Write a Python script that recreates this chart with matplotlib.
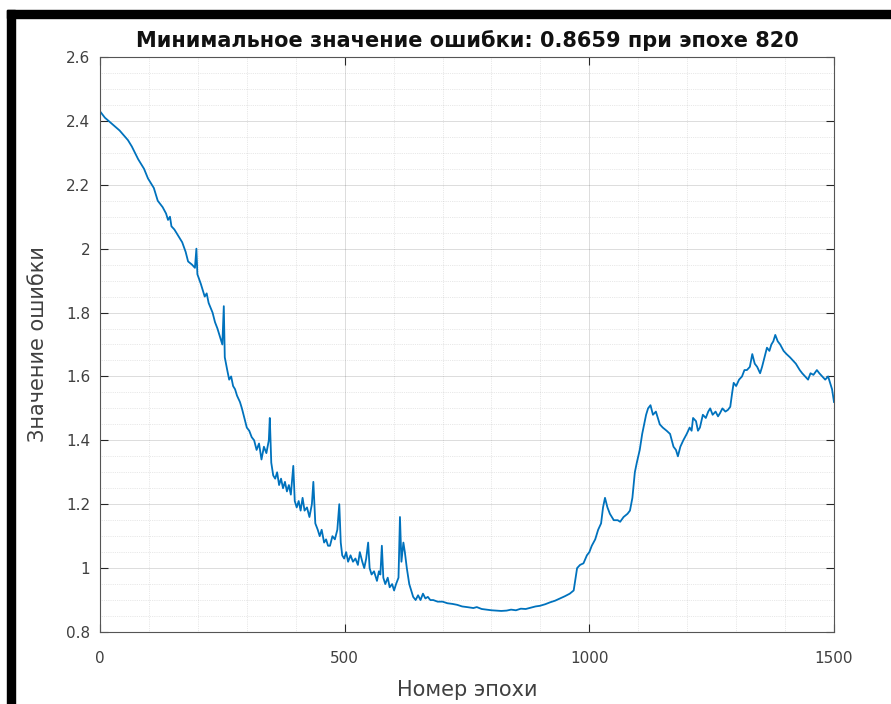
from __future__ import annotations

import matplotlib
matplotlib.use("Agg")
import matplotlib.pyplot as plt
from matplotlib.patches import Rectangle
from matplotlib.ticker import MultipleLocator

EPOCHS = [
    0, 10, 25, 40, 57, 65, 78, 90, 98, 110, 118, 128, 135, 139, 143, 146, 152,
    160, 168, 175, 180, 188, 194, 197, 199, 206, 214, 218, 222, 230, 235, 240,
    246, 250, 253, 255, 260, 264, 268, 272, 276, 280, 286, 290, 295, 300, 305,
    310, 315, 320, 325, 330, 335, 340, 345, 347, 350, 354, 358, 362, 366, 370,
    374, 378, 382, 386, 390, 395, 398, 402, 406, 410, 414, 418, 423, 428, 433,
    436, 440, 445, 449, 453, 458, 462, 466, 470, 475, 480, 485, 489, 492, 495,
    499, 503, 507, 512, 517, 522, 527, 531, 536, 540, 544, 548, 551, 555, 560,
    566, 570, 573, 576, 579, 583, 588, 592, 597, 601, 605, 610, 613, 616, 620,
    623, 627, 632, 636, 640, 645, 650, 655, 660, 665, 670, 675, 681, 690, 700,
    710, 720, 730, 740, 750, 763, 770, 780, 790, 800, 810, 820, 831, 840, 850,
    860, 870, 880, 890, 899, 910, 920, 930, 940, 950, 960, 968, 975, 981, 988,
    995, 1000, 1005, 1012, 1018, 1024, 1028, 1032, 1037, 1042, 1050, 1058,
    1063, 1070, 1078, 1083, 1088, 1093, 1097, 1103, 1108, 1112, 1116, 1120,
    1125, 1130, 1136, 1144, 1150, 1158, 1165, 1172, 1177, 1181, 1186, 1192,
    1199, 1205, 1209, 1212, 1218, 1222, 1226, 1232, 1238, 1243, 1247, 1252,
    1258, 1263, 1267, 1272, 1278, 1283, 1288, 1292, 1295, 1300, 1306, 1312,
    1317, 1322, 1328, 1333, 1338, 1343, 1349, 1353, 1358, 1363, 1368, 1372,
    1376, 1380, 1385, 1390, 1397, 1403, 1410, 1416, 1422, 1430, 1435, 1441,
    1447, 1452, 1458, 1465, 1470, 1476, 1482, 1488, 1492, 1496, 1500,
]
LOSS = [
    2.43, 2.41, 2.39, 2.37, 2.34, 2.32, 2.28, 2.25, 2.22, 2.19, 2.15, 2.13,
    2.11, 2.09, 2.10, 2.07, 2.06, 2.04, 2.02, 1.99, 1.96, 1.95, 1.94, 2.00,
    1.92, 1.89, 1.85, 1.86, 1.83, 1.80, 1.77, 1.75, 1.72, 1.70, 1.82, 1.66,
    1.62, 1.59, 1.60, 1.57, 1.56, 1.54, 1.52, 1.50, 1.47, 1.44, 1.43, 1.41,
    1.40, 1.37, 1.39, 1.34, 1.38, 1.36, 1.40, 1.47, 1.33, 1.29, 1.28, 1.30,
    1.26, 1.28, 1.25, 1.27, 1.24, 1.26, 1.23, 1.32, 1.21, 1.19, 1.21, 1.18,
    1.22, 1.18, 1.19, 1.16, 1.20, 1.27, 1.14, 1.12, 1.10, 1.12, 1.08, 1.09,
    1.07, 1.07, 1.10, 1.09, 1.12, 1.20, 1.08, 1.04, 1.03, 1.05, 1.02, 1.04,
    1.02, 1.03, 1.01, 1.05, 1.02, 1.00, 1.03, 1.08, 1.00, 0.98, 0.99, 0.96,
    0.99, 0.98, 1.07, 0.97, 0.95, 0.97, 0.94, 0.95, 0.93, 0.95, 0.97, 1.16,
    1.02, 1.08, 1.05, 1.00, 0.95, 0.93, 0.91, 0.90, 0.915, 0.90, 0.92, 0.905,
    0.91, 0.90, 0.90, 0.895, 0.895, 0.89, 0.888, 0.885, 0.88, 0.878, 0.875,
    0.878, 0.872, 0.87, 0.868, 0.867, 0.8659, 0.867, 0.87, 0.868, 0.873,
    0.872, 0.876, 0.88, 0.882, 0.887, 0.893, 0.898, 0.905, 0.912, 0.92, 0.93,
    1.00, 1.01, 1.015, 1.04, 1.05, 1.07, 1.09, 1.12, 1.14, 1.19, 1.22, 1.19,
    1.17, 1.15, 1.15, 1.145, 1.16, 1.17, 1.18, 1.22, 1.30, 1.33, 1.37, 1.42,
    1.45, 1.48, 1.50, 1.51, 1.48, 1.49, 1.45, 1.44, 1.43, 1.42, 1.38, 1.37,
    1.35, 1.38, 1.40, 1.42, 1.44, 1.43, 1.47, 1.46, 1.43, 1.44, 1.48, 1.47,
    1.49, 1.50, 1.48, 1.49, 1.475, 1.485, 1.50, 1.49, 1.495, 1.505, 1.55,
    1.58, 1.57, 1.59, 1.60, 1.62, 1.62, 1.63, 1.67, 1.64, 1.63, 1.61, 1.63,
    1.66, 1.69, 1.68, 1.70, 1.71, 1.73, 1.71, 1.70, 1.68, 1.67, 1.66, 1.65,
    1.64, 1.62, 1.61, 1.60, 1.59, 1.61, 1.605, 1.62, 1.61, 1.60, 1.59, 1.60,
    1.58, 1.56, 1.52,
]
MIN_LOSS = 0.8659
MIN_EPOCH = 820

X_TICKS = [0, 500, 1000, 1500]
Y_TICKS = [0.8, 1.0, 1.2, 1.4, 1.6, 1.8, 2.0, 2.2, 2.4, 2.6]
Y_LABELS = ["0.8", "1", "1.2", "1.4", "1.6", "1.8", "2", "2.2", "2.4", "2.6"]

OUT_PNG = "out.png"
FONT = ["DejaVu Sans"]
AX_COLOR = "#262626"


def plot() -> None:
    plt.rcParams["font.family"] = FONT
    fig = plt.figure(figsize=(8.91, 7.04), dpi=100)
    W, H = 891, 704

    # чёрная рамка сверху и слева, как на скриншоте
    fig.patches.append(Rectangle((7 / W, 1 - 18 / H), 1 - 7 / W, 8 / H,
                                 transform=fig.transFigure, color="black"))
    fig.patches.append(Rectangle((7 / W, 0), 8 / W, 1 - 10 / H,
                                 transform=fig.transFigure, color="black"))

    ax = fig.add_axes([100 / W, 1 - 632 / H, 734 / W, 575 / H])
    ax.plot(EPOCHS, LOSS, color="#0072BD", linewidth=1.3)

    ax.set_xlim(0, 1500)
    ax.set_ylim(0.8, 2.6)
    ax.set_xticks(X_TICKS)
    ax.set_yticks(Y_TICKS)
    ax.set_yticklabels(Y_LABELS)
    ax.xaxis.set_minor_locator(MultipleLocator(100))
    ax.yaxis.set_minor_locator(MultipleLocator(0.05))

    ax.grid(which="major", color=AX_COLOR, alpha=0.18, linewidth=0.6)
    ax.grid(which="minor", color=AX_COLOR, alpha=0.2, linewidth=0.5,
            linestyle=":")
    ax.tick_params(which="major", direction="in", length=6, top=True,
                   right=True, colors=AX_COLOR, labelsize=11,
                   labelcolor="#404040")
    ax.tick_params(axis="y", pad=7)
    ax.tick_params(axis="x", pad=14)
    ax.tick_params(which="minor", length=0)
    for sp in ax.spines.values():
        sp.set_color("#555555")
        sp.set_linewidth(0.8)

    ax.set_title(f"Минимальное значение ошибки: {MIN_LOSS} при эпохе {MIN_EPOCH}",
                 fontsize=15, fontweight="bold", pad=7, color="#111111")
    ax.set_xlabel("Номер эпохи", fontsize=15, color="#404040", labelpad=10)
    ax.set_ylabel("Значение ошибки", fontsize=15, color="#404040", labelpad=13)

    fig.savefig(OUT_PNG, dpi=100, facecolor="white")


if __name__ == "__main__":
    plot()
